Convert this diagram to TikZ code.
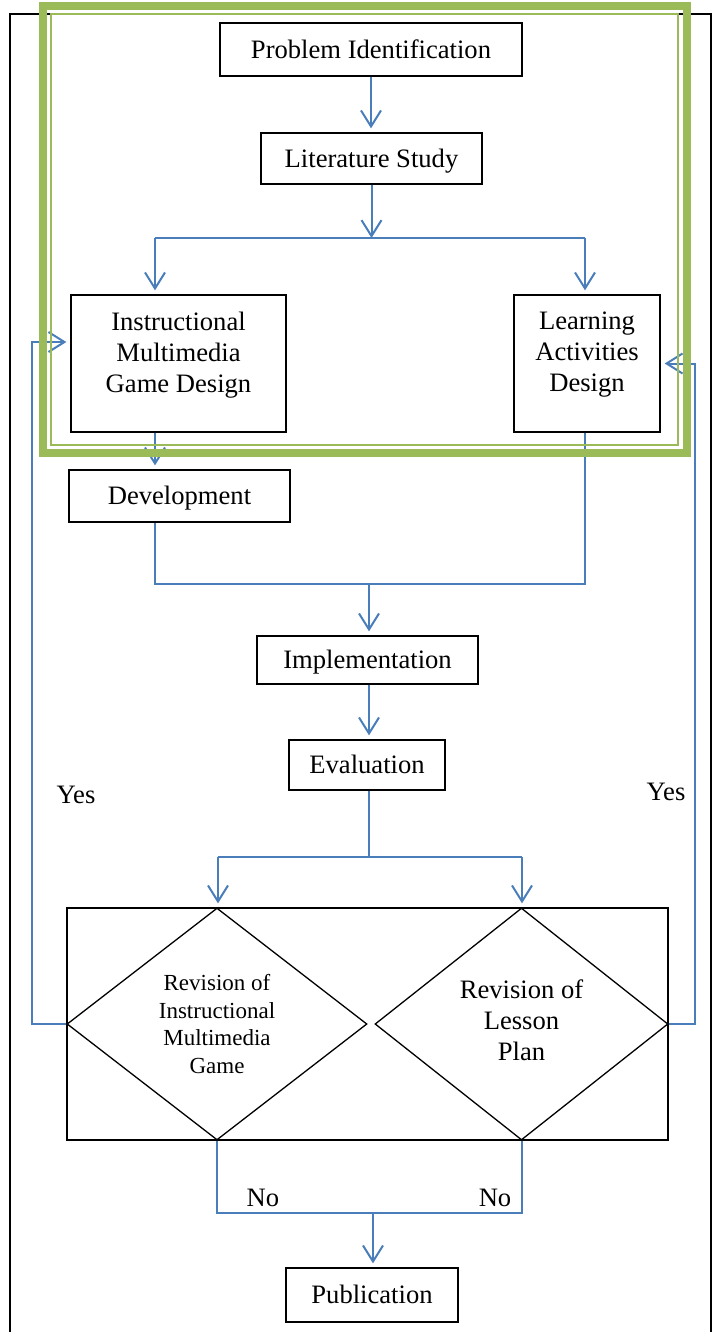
\documentclass[tikz,border=0pt]{standalone}
\usepackage{fontspec}
\setmainfont{Liberation Serif}
\usetikzlibrary{arrows.meta,shapes.geometric}
\definecolor{conblue}{RGB}{74,126,187}
\definecolor{frgreen}{RGB}{155,187,89}
\begin{document}
\begin{tikzpicture}[x=1pt,y=-1pt,
  box/.style={draw=black,line width=1.3pt,inner sep=0pt,align=center,font=\fontsize{26.6}{31}\selectfont},
  onel/.style={box,text height=23.7pt,text depth=5.75pt},
  conn/.style={draw=conblue,line width=2pt,-{Straight Barb[length=16pt,width=20pt]},shorten >=4pt},
  wire/.style={draw=conblue,line width=2pt},
  lbl/.style={inner sep=0pt,font=\fontsize{26.6}{31}\selectfont}]
\useasboundingbox (0,0) rectangle (718,1332);
\draw[line width=2pt] (10,1332) -- (10,14) -- (711,14) -- (711,1332);

\node[onel,minimum width=302pt,minimum height=53pt] (pi) at (371,49.5) {Problem Identification};
\node[onel,minimum width=221pt,minimum height=51pt] (ls) at (371.5,158.5) {Literature Study};
\node[box,minimum width=215pt,minimum height=137pt,label={[lbl,align=center,yshift=8.5pt]center:Instructional\\Multimedia\\Game Design}] (igd) at (178.5,363.5) {};
\node[box,minimum width=146pt,minimum height=137pt,label={[lbl,align=center,yshift=8.5pt]center:Learning\\Activities\\Design}] (lad) at (587,363.5) {};
\node[onel,minimum width=221pt,minimum height=52pt] (dev) at (179.5,496) {Development};
\node[onel,minimum width=221pt,minimum height=48pt] (imp) at (367.5,660) {Implementation};
\node[onel,minimum width=156pt,minimum height=50pt] (ev) at (367,765) {Evaluation};
\node[box,minimum width=601pt,minimum height=232pt] (rev) at (367.5,1024) {};
\node[box,diamond,minimum width=300pt,minimum height=232pt,font=\fontsize{23}{27.7}\selectfont] (rl) at (217,1024) {Revision of\\Instructional\\Multimedia\\Game};
\node[box,diamond,minimum width=293pt,minimum height=232pt,label={[lbl,align=center,yshift=4pt]center:Revision of\\Lesson\\Plan}] (rr) at (521.5,1024) {};
\node[onel,minimum width=172pt,minimum height=54pt] (pub) at (372,1295) {Publication};

\node[lbl] (yesl) at (76,795) {Yes};
\node[lbl] (yesr) at (666,792) {Yes};
\node[lbl] (nol) at (263,1198) {No};
\node[lbl] (nor) at (495,1198) {No};

\coordinate (bl) at (155,238);
\coordinate (br) at (585,238);
\coordinate (bm) at (371.5,238);
\draw[conn] (pi.south) -- (pi.south |- ls.north);
\draw[conn,shorten >=0pt] (ls.south) -- (bm);
\draw[wire] (bl) -- (br);
\draw[conn] (bl) -- (bl |- igd.north);
\draw[conn] (br) -- (br |- lad.north);
\draw[conn] (bl |- igd.south) -- (bl |- dev.north);
\coordinate (j1) at (369,584);
\draw[wire] (bl |- dev.south) |- (j1) -| (br |- lad.south);
\draw[conn] (j1) -- (j1 |- imp.north);
\draw[conn] (j1 |- imp.south) -- (j1 |- ev.north);
\coordinate (j2) at (369,857);
\draw[wire] (j1 |- ev.south) -- (j2);
\coordinate (el) at (218,857);
\coordinate (er) at (522,857);
\draw[wire] (el) -- (er);
\draw[conn] (el) -- (el |- rev.north);
\draw[conn] (er) -- (er |- rev.north);
\draw[conn] (rl.west) -- ++(-34,0) |- ([yshift=21.5pt]igd.west);
\draw[conn] (rr.east) -- ++(26,0) |- (lad.east);
\coordinate (j3) at (373,1213);
\draw[wire] (rl.south) |- (j3) -| (rr.south);
\draw[conn] (j3) -- (j3 |- pub.north);

\draw[frgreen,line width=8pt] (43,6) rectangle (687,453);
\draw[frgreen,line width=2pt] (51,14) rectangle (678,445);
\end{tikzpicture}
\end{document}
